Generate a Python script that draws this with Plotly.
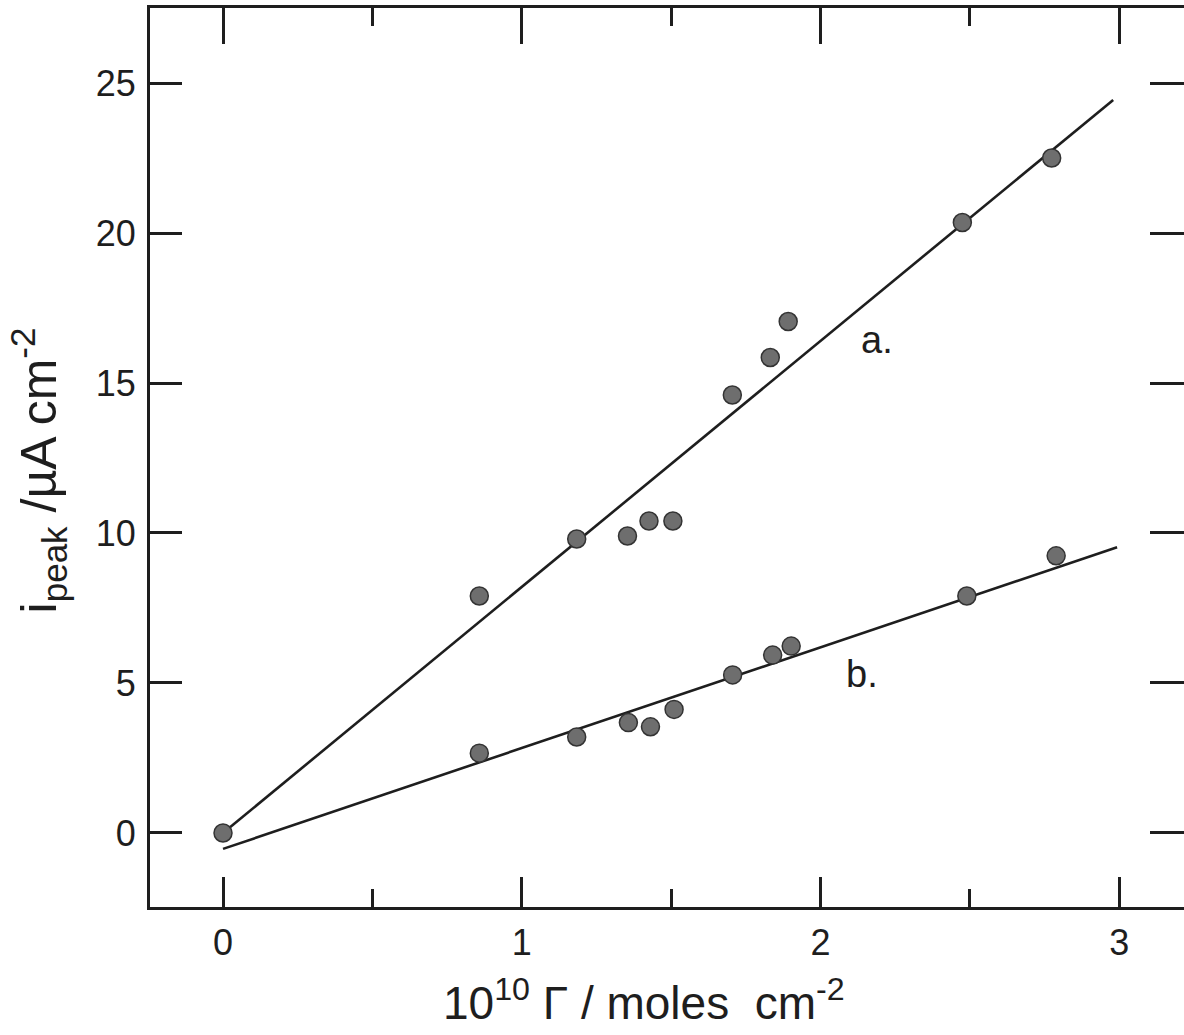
import plotly.graph_objects as go

# Surface coverage (10^10 Γ, moles cm^-2) and peak current (µA cm^-2)
gamma_a = [0.0, 0.858, 1.184, 1.354, 1.426, 1.506, 1.705, 1.832, 1.892, 2.475, 2.774]
ipeak_a = [0.0, 7.9, 9.8, 9.9, 10.4, 10.4, 14.6, 15.85, 17.05, 20.35, 22.5]

gamma_b = [0.858, 1.184, 1.357, 1.431, 1.51, 1.706, 1.84, 1.902, 2.49, 2.789]
ipeak_b = [2.66, 3.2, 3.68, 3.54, 4.12, 5.27, 5.93, 6.23, 7.9, 9.24]

# Least-squares lines: slope, intercept and x extent
slope_a, icpt_a, xfit_a = 8.2, 0.0, [0.0, 2.98]
slope_b, icpt_b, xfit_b = 3.36, -0.53, [0.0, 2.993]

x_ticks = [0, 1, 2, 3]
y_ticks = [0, 5, 10, 15, 20, 25]

FONT = "Liberation Sans"
INK = "#1e1e1e"

fig = go.Figure()

for xs, m, c in [(xfit_a, slope_a, icpt_a), (xfit_b, slope_b, icpt_b)]:
    fig.add_trace(go.Scatter(
        x=xs, y=[m * v + c for v in xs], mode="lines",
        line=dict(color=INK, width=2.6), showlegend=False, hoverinfo="skip"))

for xs, ys in [(gamma_a, ipeak_a), (gamma_b, ipeak_b)]:
    fig.add_trace(go.Scatter(
        x=xs, y=ys, mode="markers",
        marker=dict(size=18, color="#6e6e6e", line=dict(color="#333333", width=1.5)),
        showlegend=False))

xr = [-0.2444, 3.217]
yr = [-2.467, 27.5]

fig.update_layout(
    width=1184, height=1035,
    margin=dict(l=150, r=0, t=8, b=128),
    paper_bgcolor="white", plot_bgcolor="white",
    font=dict(family=FONT, color=INK, size=36),
    xaxis=dict(
        range=xr, tickvals=x_ticks, ticktext=[str(v) for v in x_ticks],
        ticks="inside", ticklen=30, tickwidth=2.5, tickcolor=INK,
        minor=dict(dtick=0.5, ticks="inside", ticklen=18, tickwidth=2.5, tickcolor=INK),
        showline=True, linewidth=3, linecolor=INK, mirror=True,
        showgrid=False, zeroline=False, tickfont=dict(size=36),
        ticklabelstandoff=2),
    xaxis2=dict(
        range=xr, overlaying="x", side="top", tickvals=x_ticks,
        ticks="inside", ticklen=36, tickwidth=2.5, tickcolor=INK,
        minor=dict(dtick=0.5, ticks="inside", ticklen=18, tickwidth=2.5, tickcolor=INK),
        showticklabels=False, showline=False, showgrid=False, zeroline=False),
    yaxis=dict(
        range=yr, tickvals=y_ticks,
        ticks="inside", ticklen=32, tickwidth=2.5, tickcolor=INK,
        showline=True, linewidth=3, linecolor=INK,
        showgrid=False, zeroline=False, tickfont=dict(size=36),
        ticklabelstandoff=4),
    yaxis2=dict(
        range=yr, overlaying="y", side="right", tickvals=y_ticks,
        ticks="inside", ticklen=34, tickwidth=2.5, tickcolor=INK,
        showticklabels=False, showline=False, showgrid=False, zeroline=False),
)

# placeholder trace so the mirrored tick axes get drawn
fig.add_trace(go.Scatter(x=[None], y=[None], xaxis="x2", yaxis="y2",
                         showlegend=False, hoverinfo="skip"))

fig.add_annotation(x=2.188, y=16.43, text="a.", showarrow=False,
                   font=dict(size=38), xanchor="center", yanchor="middle")
fig.add_annotation(x=2.14, y=5.3, text="b.", showarrow=False,
                   font=dict(size=38), xanchor="center", yanchor="middle")

fig.add_annotation(
    xref="paper", yref="paper", x=0.478, y=-0.138,
    text="10<sup>10</sup> Γ / moles  cm<sup>-2</sup>", showarrow=False,
    font=dict(size=46), xanchor="center", yanchor="bottom")
fig.add_annotation(
    xref="paper", yref="paper", x=-0.108, y=0.486, textangle=-90,
    text="i<sub>peak</sub> /µA cm<sup>-2</sup>", showarrow=False,
    font=dict(size=50), xanchor="center", yanchor="middle")

fig.write_html("out.html")
